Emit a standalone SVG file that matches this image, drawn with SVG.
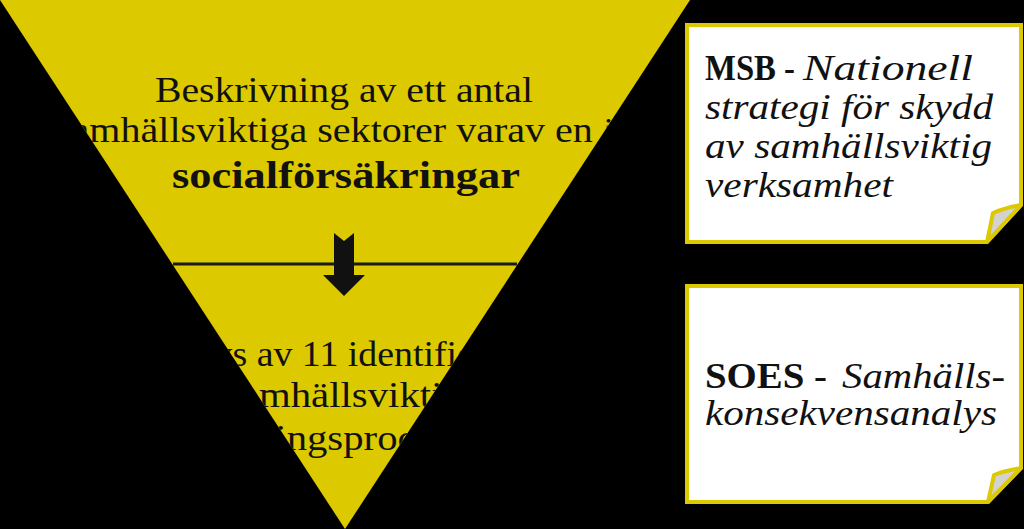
<svg xmlns="http://www.w3.org/2000/svg" width="1024" height="529" viewBox="0 0 1024 529">
  <style>
    .serif { font-family: "Liberation Serif", "DejaVu Serif", serif; fill: #111; }
    .tri { font-size: 35px; }
    .trib { font-size: 38px; font-weight: bold; }
    .low { font-size: 36px; }
    .box { font-size: 35px; }
    .b { font-weight: bold; }
    .i { font-style: italic; }
    .page { fill: #ffffff; stroke: #dcc900; stroke-width: 4; stroke-linejoin: miter; }
    .fold { fill: #d2d2d2; stroke: #dcc900; stroke-width: 4; stroke-linejoin: round; }
  </style>
  <defs>
    <clipPath id="triClip">
      <polygon points="0,0 690,0 345,529"/>
    </clipPath>
  </defs>
  <rect width="1024" height="529" fill="#000"/>

  <g id="funnel">
    <polygon points="0,0 690,0 345,529" fill="#dcc900"/>
    <line x1="173" y1="264" x2="517" y2="264" stroke="#1a1a1a" stroke-width="3"/>
  </g>

  <g id="node-top" clip-path="url(#triClip)">
    <text class="serif tri" x="155" y="102" textLength="378" lengthAdjust="spacingAndGlyphs">Beskrivning av ett antal</text>
    <text class="serif tri" x="56" y="142" textLength="578" lengthAdjust="spacingAndGlyphs">samhällsviktiga sektorer varav en är</text>
    <text class="serif trib" x="172" y="188" textLength="348" lengthAdjust="spacingAndGlyphs">socialförsäkringar</text>
  </g>

  <g id="node-bottom" clip-path="url(#triClip)">
    <text class="serif low" x="140" y="366" textLength="399" lengthAdjust="spacingAndGlyphs">Analys av 11 identifierade</text>
    <text class="serif low" x="225" y="407" textLength="256" lengthAdjust="spacingAndGlyphs">samhällsviktiga</text>
    <text class="serif low" x="160" y="450" textLength="337" lengthAdjust="spacingAndGlyphs">försäkringsprocesser</text>
  </g>

  <g id="connectors">
    <polygon points="334,233 344,241 354,233 354,275 365,275 344,296 323,275 334,275" fill="#111"/>
  </g>

  <g id="node-msb">
    <path class="page" d="M687,25 L1021,25 L1021,205 L987,242 L687,242 Z"/>
    <path class="fold" d="M1021,205 Q1004,208 993,213 Q990,228 987,242 Z"/>
    <text class="serif box b" x="705" y="80" textLength="90" lengthAdjust="spacingAndGlyphs">MSB -</text>
    <text class="serif box i" x="803" y="80" textLength="170" lengthAdjust="spacingAndGlyphs">Nationell</text>
    <text class="serif box i" x="705" y="119" textLength="288" lengthAdjust="spacingAndGlyphs">strategi för skydd</text>
    <text class="serif box i" x="705" y="158" textLength="287" lengthAdjust="spacingAndGlyphs">av samhällsviktig</text>
    <text class="serif box i" x="705" y="197" textLength="188" lengthAdjust="spacingAndGlyphs">verksamhet</text>
  </g>

  <g id="node-soes">
    <path class="page" d="M687,286 L1021,286 L1021,468 L988,502 L687,502 Z"/>
    <path class="fold" d="M1021,468 Q1004,471 994,475 Q991,489 988,502 Z"/>
    <text class="serif box b" x="705" y="388" textLength="122" lengthAdjust="spacingAndGlyphs">SOES -</text>
    <text class="serif box i" x="842" y="388" textLength="163" lengthAdjust="spacingAndGlyphs">Samhälls-</text>
    <text class="serif box i" x="705" y="425" textLength="292" lengthAdjust="spacingAndGlyphs">konsekvensanalys</text>
  </g>
</svg>
